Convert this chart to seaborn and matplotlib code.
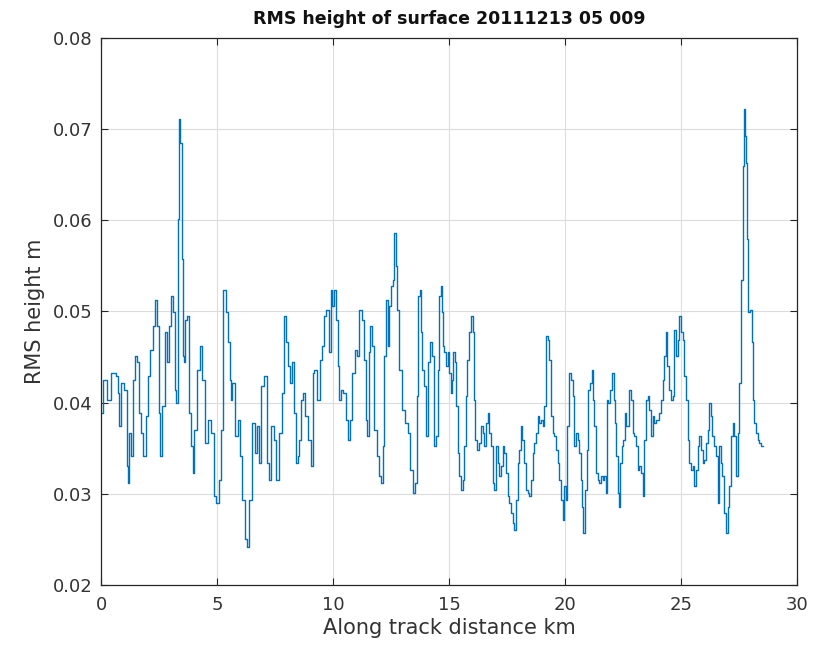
import matplotlib
matplotlib.use("Agg")
import matplotlib.pyplot as plt
import seaborn as sns
import pandas as pd

# Along-track distance (km) and RMS surface height (m)
distance_km = [
    0.00, 0.17, 0.32, 0.57, 0.68, 0.75, 0.82, 0.92, 1.06, 1.14, 1.18, 1.25, 1.32, 1.42, 1.49, 1.61,
    1.68, 1.75, 1.87, 1.97, 2.08, 2.18, 2.30, 2.37, 2.47, 2.51, 2.56, 2.69, 2.83, 2.90, 2.97, 3.07,
    3.15, 3.20, 3.28, 3.33, 3.38, 3.43, 3.52, 3.56, 3.59, 3.65, 3.74, 3.81, 3.91, 3.98, 4.05, 4.22,
    4.31, 4.41, 4.55, 4.66, 4.80, 4.94, 5.01, 5.13, 5.17, 5.36, 5.43, 5.50, 5.60, 5.63, 5.70, 5.85,
    5.92, 6.02, 6.13, 6.24, 6.32, 6.42, 6.57, 6.67, 6.75, 6.85, 6.97, 7.07, 7.21,
    7.29, 7.39, 7.50, 7.62, 7.72, 7.86, 7.93, 8.00, 8.10, 8.19, 8.29, 8.36, 8.43, 8.51, 8.58, 8.65,
    8.75, 8.86, 8.98, 9.08, 9.15, 9.22, 9.37, 9.48, 9.58, 9.66, 9.77, 9.87, 9.94, 10.01, 10.09, 10.16,
    10.23, 10.30, 10.37, 10.52, 10.59, 10.69, 10.78, 10.88, 10.98, 11.09, 11.19, 11.28, 11.38, 11.45,
    11.49, 11.57, 11.64, 11.70, 11.81, 11.95, 12.03, 12.10, 12.17, 12.24, 12.31, 12.39, 12.46, 12.53,
    12.60, 12.67, 12.72, 12.79, 12.89, 13.03, 13.18, 13.25, 13.39, 13.49, 13.58, 13.65, 13.71, 13.76,
    13.82, 13.89, 13.97, 14.04, 14.11, 14.21, 14.30,
    14.40, 14.47, 14.54, 14.61, 14.66, 14.71, 14.77, 14.83, 14.90, 14.97, 15.04, 15.09, 15.14, 15.23,
    15.29, 15.35, 15.40, 15.47, 15.55, 15.62, 15.69, 15.76, 15.83, 15.91, 15.98, 16.05, 16.12, 16.16,
    16.24, 16.34, 16.41, 16.48, 16.55, 16.62, 16.70, 16.77, 16.84, 16.91, 16.98, 17.06, 17.13, 17.20,
    17.27, 17.34, 17.41, 17.49, 17.56, 17.63, 17.70, 17.77, 17.85, 17.92, 17.99, 18.06, 18.13, 18.20,
    18.28, 18.35, 18.42, 18.49, 18.56, 18.64, 18.71, 18.78, 18.85, 18.92, 18.99, 19.07, 19.14, 19.21,
    19.28, 19.35, 19.43, 19.50, 19.57, 19.64, 19.71, 19.78, 19.86, 19.93, 20.00, 20.07, 20.14, 20.22,
    20.29, 20.36, 20.43, 20.50, 20.58, 20.65, 20.72, 20.76, 20.82, 20.89, 20.98, 21.03, 21.12, 21.18,
    21.24, 21.29, 21.37, 21.44, 21.51, 21.58, 21.65, 21.73, 21.80,
    21.84, 21.90, 21.98, 22.08, 22.13, 22.18, 22.23, 22.30, 22.34, 22.41, 22.47, 22.54, 22.61, 22.67,
    22.73, 22.80, 22.87, 22.95, 23.02, 23.09, 23.16, 23.23, 23.30, 23.38, 23.45, 23.52, 23.59, 23.66,
    23.74, 23.81, 23.88, 23.95, 24.02, 24.09, 24.17, 24.24, 24.31, 24.38, 24.45, 24.53, 24.60, 24.67,
    24.74, 24.81, 24.89, 24.96, 25.03, 25.10, 25.17, 25.24, 25.32, 25.39, 25.46, 25.53, 25.60, 25.68,
    25.75, 25.82, 25.89, 25.96, 26.03, 26.11, 26.18, 26.25, 26.32, 26.39, 26.47, 26.54, 26.61, 26.68,
    26.75, 26.82, 26.90, 26.97, 27.04, 27.11, 27.18, 27.26, 27.33, 27.40, 27.47, 27.54, 27.61, 27.69,
    27.73, 27.77, 27.83, 27.87, 27.93, 28.02, 28.07, 28.13, 28.19, 28.26, 28.33, 28.40, 28.48, 28.55,
]

rms_height_m = [
    0.0389, 0.0425, 0.0403, 0.0433, 0.0429, 0.0411, 0.0374, 0.0422, 0.0414, 0.0330, 0.0312, 0.0367,
    0.0341, 0.0425, 0.0451, 0.0444, 0.0389, 0.0367, 0.0341, 0.0385, 0.0429, 0.0458, 0.0484, 0.0513,
    0.0484, 0.0389, 0.0341, 0.0396, 0.0477, 0.0444, 0.0484, 0.0517, 0.0499, 0.0414, 0.0400, 0.0601,
    0.0711, 0.0685, 0.0557, 0.0451, 0.0444, 0.0491, 0.0495, 0.0389, 0.0352, 0.0323, 0.0370, 0.0436,
    0.0462, 0.0425, 0.0356, 0.0381, 0.0367, 0.0297, 0.0290, 0.0315, 0.0370, 0.0524, 0.0499, 0.0466,
    0.0425, 0.0403, 0.0422, 0.0363, 0.0381, 0.0341, 0.0293, 0.0250, 0.0242, 0.0293, 0.0378, 0.0345,
    0.0374, 0.0334, 0.0418, 0.0429, 0.0334,
    0.0315, 0.0374, 0.0359, 0.0315, 0.0367, 0.0411, 0.0495, 0.0466, 0.0440, 0.0422, 0.0444, 0.0389,
    0.0334, 0.0341, 0.0359, 0.0403, 0.0411, 0.0385, 0.0359, 0.0330, 0.0433, 0.0436, 0.0403, 0.0447,
    0.0462, 0.0495, 0.0502, 0.0455, 0.0524, 0.0506, 0.0524, 0.0491, 0.0440, 0.0403, 0.0414, 0.0411,
    0.0381, 0.0359, 0.0381, 0.0433, 0.0458, 0.0451, 0.0502, 0.0491, 0.0447, 0.0381, 0.0363, 0.0455,
    0.0484, 0.0462, 0.0370, 0.0341, 0.0319, 0.0312, 0.0352, 0.0451, 0.0513, 0.0462, 0.0506, 0.0528,
    0.0535, 0.0586, 0.0550, 0.0502, 0.0436, 0.0392, 0.0378, 0.0367, 0.0326, 0.0301, 0.0312, 0.0407,
    0.0517, 0.0524, 0.0477, 0.0436, 0.0418, 0.0363, 0.0444, 0.0466, 0.0451,
    0.0352, 0.0363, 0.0436, 0.0517, 0.0528, 0.0499, 0.0462, 0.0455, 0.0440, 0.0455, 0.0433, 0.0411,
    0.0425, 0.0455, 0.0444, 0.0396, 0.0345, 0.0319, 0.0304, 0.0315, 0.0352, 0.0407, 0.0447, 0.0477,
    0.0495, 0.0477, 0.0403, 0.0359, 0.0348, 0.0356, 0.0374, 0.0367, 0.0352, 0.0378, 0.0389, 0.0367,
    0.0352, 0.0312, 0.0304, 0.0352, 0.0334, 0.0319, 0.0330, 0.0352, 0.0345, 0.0323, 0.0297, 0.0290,
    0.0279, 0.0268, 0.0260, 0.0293, 0.0334, 0.0348, 0.0374, 0.0359, 0.0334, 0.0304, 0.0301, 0.0297,
    0.0315, 0.0345, 0.0356, 0.0367, 0.0385, 0.0378, 0.0381, 0.0374, 0.0396, 0.0473, 0.0469, 0.0447,
    0.0385, 0.0367, 0.0363, 0.0348, 0.0334, 0.0315, 0.0293, 0.0271, 0.0308, 0.0293, 0.0374, 0.0433,
    0.0425, 0.0407, 0.0352, 0.0367, 0.0359, 0.0345, 0.0315, 0.0286, 0.0257, 0.0304, 0.0348, 0.0414,
    0.0422, 0.0436, 0.0403, 0.0374, 0.0323, 0.0315, 0.0312, 0.0319, 0.0315, 0.0319, 0.0301,
    0.0403, 0.0400, 0.0414, 0.0433, 0.0403, 0.0378, 0.0341, 0.0301, 0.0286, 0.0334, 0.0352, 0.0359,
    0.0389, 0.0374, 0.0374, 0.0414, 0.0403, 0.0367, 0.0363, 0.0352, 0.0326, 0.0330, 0.0323, 0.0297,
    0.0359, 0.0403, 0.0407, 0.0392, 0.0363, 0.0385, 0.0378, 0.0381, 0.0381, 0.0389, 0.0403, 0.0425,
    0.0451, 0.0477, 0.0440, 0.0414, 0.0403, 0.0407, 0.0480, 0.0451, 0.0469, 0.0495, 0.0477, 0.0469,
    0.0429, 0.0403, 0.0359, 0.0334, 0.0326, 0.0330, 0.0308, 0.0326, 0.0352, 0.0363, 0.0348, 0.0334,
    0.0337, 0.0356, 0.0370, 0.0400, 0.0385, 0.0363, 0.0352, 0.0341, 0.0290, 0.0352, 0.0334, 0.0319,
    0.0279, 0.0257, 0.0286, 0.0308, 0.0363, 0.0378, 0.0363, 0.0319, 0.0367, 0.0422, 0.0535, 0.0660,
    0.0722, 0.0693, 0.0663, 0.0579, 0.0499, 0.0502, 0.0466, 0.0403, 0.0378, 0.0367, 0.0359, 0.0356,
    0.0352, 0.0352,
]

x_ticks = [0, 5, 10, 15, 20, 25, 30]
y_ticks = [0.02, 0.03, 0.04, 0.05, 0.06, 0.07, 0.08]
y_tick_labels = ["0.02", "0.03", "0.04", "0.05", "0.06", "0.07", "0.08"]

df = pd.DataFrame({"distance": distance_km, "rms": rms_height_m})

sns.set_theme(style="whitegrid")
plt.rcParams["font.family"] = ["DejaVu Sans"]

fig = plt.figure(figsize=(8.16, 6.55), dpi=100)
ax = fig.add_axes([0.1238, 0.107, 0.853, 0.835])

sns.lineplot(data=df, x="distance", y="rms", ax=ax, color="#0072BD",
             linewidth=1.0, drawstyle="steps-mid", estimator=None)

ax.set_xlim(0, 30)
ax.set_ylim(0.02, 0.08)
ax.set_xticks(x_ticks)
ax.set_yticks(y_ticks)
ax.set_yticklabels(y_tick_labels)

ax.grid(True, color="#dcdcdc", linewidth=0.8)
ax.set_facecolor("white")
for side in ["left", "right", "top", "bottom"]:
    ax.spines[side].set_visible(True)
    ax.spines[side].set_color("#262626")
    ax.spines[side].set_linewidth(0.9)

ax.tick_params(axis="both", direction="in", length=5, width=0.8, color="#262626",
               labelsize=13, labelcolor="#333333", top=True, right=True,
               bottom=True, left=True)
ax.tick_params(axis="x", pad=8)
ax.tick_params(axis="y", pad=6)

ax.set_xlabel("Along track distance km", fontsize=15, color="#333333", labelpad=3)
ax.set_ylabel("RMS height m", fontsize=15, color="#333333", labelpad=6)
ax.set_title("RMS height of surface 20111213 05 009", fontsize=12.5,
             fontweight="bold", color="#111111", pad=10)

fig.savefig("out.png", dpi=100, facecolor="white")
